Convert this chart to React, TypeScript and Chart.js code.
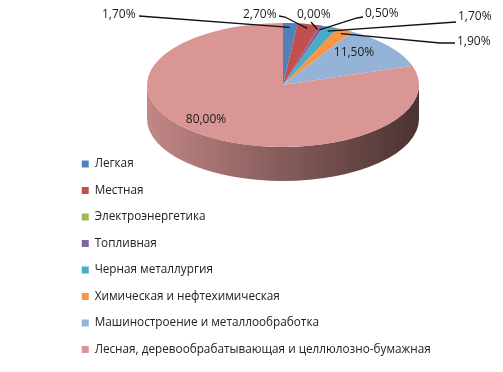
import React, { useEffect, useRef } from 'react';
import { Chart, registerables } from 'chart.js';

Chart.register(...registerables);

// ---------- data ----------
const categories = [
  'Легкая',
  'Местная',
  'Электроэнергетика',
  'Топливная',
  'Черная металлургия',
  'Химическая и нефтехимическая',
  'Машиностроение и металлообработка',
  'Лесная, деревообрабатывающая и целлюлозно-бумажная',
];
const shares = [1.7, 2.7, 0.0, 0.5, 1.7, 1.9, 11.5, 80.0];
const sliceColors = ['#4F81BD', '#C0504D', '#9BBB59', '#8064A2', '#4BACC6', '#F79646', '#95B3D7', '#D99694'];

// ---------- styling / layout ----------
const FONT = '"Open Sans", "Noto Sans", sans-serif';
const fmt = (v: number) => v.toFixed(2).replace('.', ',') + '%';

// projected (3D-looking) pie geometry on the canvas
const PIE = { cx: 283, cy: 85, rx: 136, ry: 62, depth: 34 };

// label placement: text left x / centre y; leader line start and optional elbow
type LabelPlace = { inside?: boolean; x: number; y: number; from?: [number, number]; elbow?: [number, number] };
const LABEL_PLACES: LabelPlace[] = [
  { x: 102, y: 15, from: [139, 16] },
  { x: 243, y: 15, from: [279, 16], elbow: [285, 17] },
  { x: 297, y: 15, from: [311, 22] },
  { x: 365, y: 14, from: [363, 17], elbow: [357, 18] },
  { x: 458, y: 17, from: [456, 22] },
  { x: 457, y: 42, from: [455, 43], elbow: [440, 43] },
  { inside: true, x: 354, y: 53 },
  { inside: true, x: 206, y: 120 },
];

function shade(hex: string, f: number) {
  const n = parseInt(hex.slice(1), 16);
  const r = Math.round(((n >> 16) & 255) * f);
  const g = Math.round(((n >> 8) & 255) * f);
  const b = Math.round((n & 255) * f);
  return `rgb(${r},${g},${b})`;
}

const pie3d = {
  id: 'pie3d',
  beforeDatasetsDraw(chart: any) {
    const ctx: CanvasRenderingContext2D = chart.ctx;
    const meta = chart.getDatasetMeta(0);
    const arcs = meta.data as any[];
    if (!arcs.length) return;
    const { cx, cy, rx, ry, depth } = PIE;
    // side walls (front half only)
    arcs.forEach((arc: any, i: number) => {
      const s = arc.startAngle;
      const e = arc.endAngle;
      const col = sliceColors[i % sliceColors.length];
      for (const off of [0, 2 * Math.PI, -2 * Math.PI]) {
        const a0 = Math.max(s + off, 0);
        const a1 = Math.min(e + off, Math.PI);
        if (a1 <= a0) continue;
        const g = ctx.createLinearGradient(cx - rx, 0, cx + rx, 0);
        g.addColorStop(0, shade(col, 0.9));
        g.addColorStop(0.45, shade(col, 0.64));
        g.addColorStop(1, shade(col, 0.34));
        ctx.save();
        ctx.fillStyle = g;
        ctx.beginPath();
        ctx.ellipse(cx, cy, rx, ry, 0, a0, a1, false);
        ctx.ellipse(cx, cy + depth, rx, ry, 0, a1, a0, true);
        ctx.closePath();
        ctx.fill();
        ctx.restore();
      }
    });
    // top face: squash the library's circular pie into an ellipse
    const a = arcs[0];
    const R = a.outerRadius;
    ctx.save();
    ctx.translate(cx, cy);
    ctx.scale(rx / R, ry / R);
    ctx.translate(-a.x, -a.y);
  },
  afterDatasetsDraw(chart: any) {
    const ctx: CanvasRenderingContext2D = chart.ctx;
    ctx.restore();
    const meta = chart.getDatasetMeta(0);
    const arcs = meta.data as any[];
    const values = chart.data.datasets[0].data as number[];
    const { cx, cy, rx, ry } = PIE;
    ctx.save();
    ctx.font = `12px ${FONT}`;
    ctx.textBaseline = 'middle';
    arcs.forEach((arc: any, i: number) => {
      const p = LABEL_PLACES[i];
      if (!p) return;
      const txt = fmt(values[i]);
      if (p.inside) {
        ctx.fillStyle = '#1c1c1c';
        ctx.textAlign = 'center';
        ctx.fillText(txt, p.x, p.y);
        return;
      }
      const mid = (arc.startAngle + arc.endAngle) / 2;
      const k = 0.93;
      const axp = cx + rx * k * Math.cos(mid);
      const ayp = cy + ry * k * Math.sin(mid);
      ctx.strokeStyle = '#111';
      ctx.lineWidth = 1.3;
      ctx.beginPath();
      ctx.moveTo(p.from![0], p.from![1]);
      if (p.elbow) ctx.lineTo(p.elbow[0], p.elbow[1]);
      ctx.lineTo(axp, ayp);
      ctx.stroke();
      ctx.fillStyle = '#1c1c1c';
      ctx.textAlign = 'left';
      ctx.fillText(txt, p.x, p.y);
    });
    ctx.restore();
  },
};

export default function App() {
  const ref = useRef<HTMLCanvasElement>(null);
  useEffect(() => {
    if (!ref.current) return;
    const chart = new Chart(ref.current, {
      type: 'pie',
      data: {
        labels: categories,
        datasets: [
          {
            data: shares,
            backgroundColor: sliceColors,
            borderWidth: 0,
            clip: false as any,
          },
        ],
      },
      options: {
        responsive: false,
        animation: false,
        events: [],
        layout: { padding: { left: 67, top: 0, right: 0, bottom: 1.875 } },
        plugins: {
          legend: {
            position: 'chartArea',
            align: 'end',
            labels: {
              boxWidth: 7,
              boxHeight: 7,
              padding: 14.75,
              color: '#222',
              font: { family: FONT, size: 11.75 },
            },
          },
          tooltip: { enabled: false },
        },
      } as any,
      plugins: [pie3d as any],
    });
    return () => chart.destroy();
  }, []);
  return (
    <div style={{ position: 'absolute', left: 0, top: 0, width: 503, height: 372, background: '#fff' }}>
      <canvas ref={ref} width={503} height={372} style={{ display: 'block' }} />
    </div>
  );
}
